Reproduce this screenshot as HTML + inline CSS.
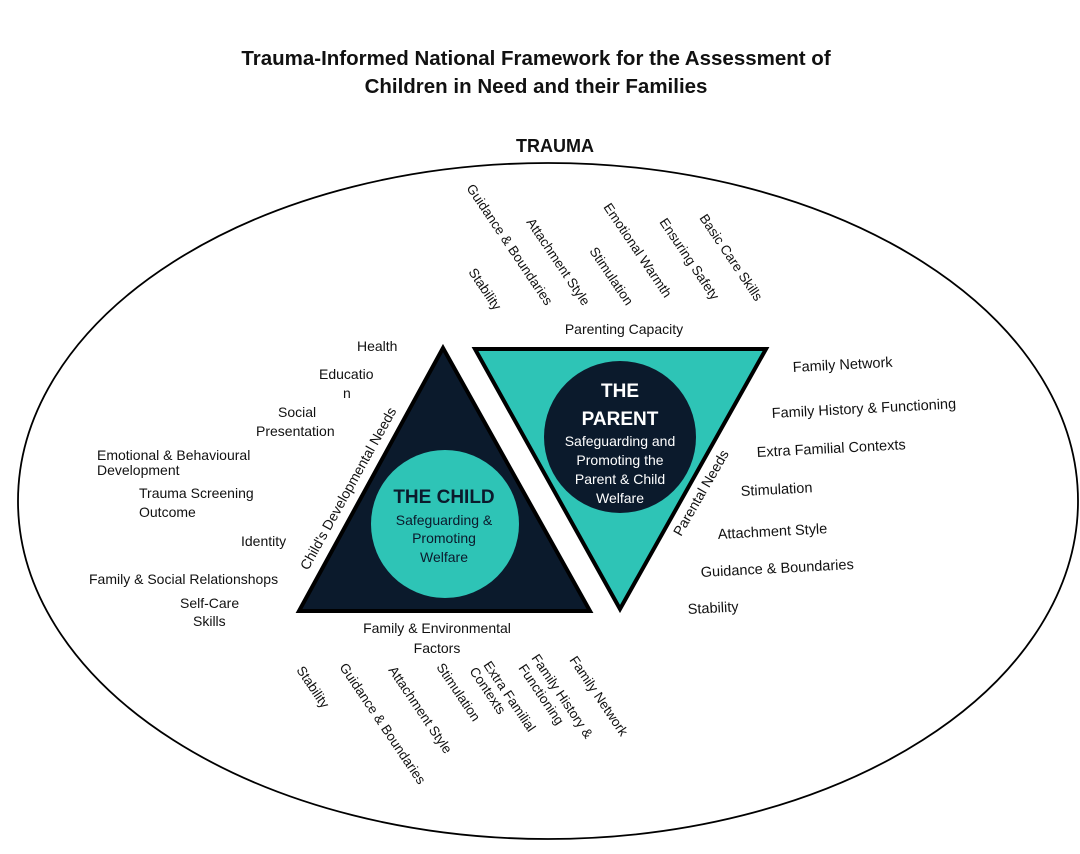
<!DOCTYPE html>
<html><head><meta charset="utf-8"><style>
html,body{margin:0;padding:0;background:#fff}
svg{display:block}
text{font-family:"Liberation Sans",sans-serif;fill:#111}
.s{font-size:13.5px}
.h{font-size:14px}
</style></head><body>
<svg width="1080" height="854" viewBox="0 0 1080 854">
<text x="536" y="65" text-anchor="middle" font-size="20.5" font-weight="bold">Trauma-Informed National Framework for the Assessment of</text>
<text x="536" y="93" text-anchor="middle" font-size="20.5" font-weight="bold">Children in Need and their Families</text>
<text x="555" y="152" text-anchor="middle" font-size="18" font-weight="bold">TRAUMA</text>
<ellipse cx="548" cy="501" rx="530" ry="338" fill="none" stroke="#000" stroke-width="1.8"/>
<polygon points="443,348 299,611 590,611" fill="#0b1a2c" stroke="#000" stroke-width="4"/>
<circle cx="445" cy="524" r="74" fill="#2ec4b6"/>
<polygon points="475,349 766,349 620,609" fill="#2ec4b6" stroke="#000" stroke-width="4"/>
<circle cx="620" cy="437" r="76" fill="#0b1a2c"/>
<text x="444" y="503" text-anchor="middle" font-size="19" font-weight="bold" style="fill:#0b1a2c">THE CHILD</text>
<text x="444" y="525" text-anchor="middle" class="h" style="fill:#0b1a2c">Safeguarding &amp;</text>
<text x="444" y="543" text-anchor="middle" class="h" style="fill:#0b1a2c">Promoting</text>
<text x="444" y="562" text-anchor="middle" class="h" style="fill:#0b1a2c">Welfare</text>
<text x="620" y="397" text-anchor="middle" font-size="19" font-weight="bold" style="fill:#fff">THE</text>
<text x="620" y="425" text-anchor="middle" font-size="19" font-weight="bold" style="fill:#fff">PARENT</text>
<text x="620" y="446" text-anchor="middle" class="h" style="fill:#fff">Safeguarding and</text>
<text x="620" y="465" text-anchor="middle" class="h" style="fill:#fff">Promoting the</text>
<text x="620" y="484" text-anchor="middle" class="h" style="fill:#fff">Parent &amp; Child</text>
<text x="620" y="503" text-anchor="middle" class="h" style="fill:#fff">Welfare</text>
<text x="624" y="334" text-anchor="middle" class="h">Parenting Capacity</text>
<text x="437" y="633" text-anchor="middle" class="h">Family &amp; Environmental</text>
<text x="437" y="653" text-anchor="middle" class="h">Factors</text>
<text transform="translate(308,571) rotate(-61)" class="h">Child's Developmental Needs</text>
<text transform="translate(681,537) rotate(-60)" class="h">Parental Needs</text>
<g class="s">
<text transform="translate(466,188) rotate(56)">Guidance &amp; Boundaries</text>
<text transform="translate(468,272) rotate(56)">Stability</text>
<text transform="translate(526,222) rotate(56)">Attachment Style</text>
<text transform="translate(589,251) rotate(56)">Stimulation</text>
<text transform="translate(603,207) rotate(56)">Emotional Warmth</text>
<text transform="translate(659,222) rotate(56)">Ensuring Safety</text>
<text transform="translate(699,218) rotate(56)">Basic Care Skills</text>
</g>
<g class="s">
<text transform="translate(296,670) rotate(56)">Stability</text>
<text transform="translate(339,667) rotate(56)">Guidance &amp; Boundaries</text>
<text transform="translate(388,670) rotate(56)">Attachment Style</text>
<text transform="translate(436,667) rotate(56)">Stimulation</text>
<text transform="translate(483,665) rotate(56)">Extra Familial</text>
<text transform="translate(469,671) rotate(56)">Contexts</text>
<text transform="translate(531,658) rotate(56)">Family History &amp;</text>
<text transform="translate(518,668) rotate(56)">Functioning</text>
<text transform="translate(569,660) rotate(56)">Family Network</text>
</g>
<g font-size="14.5">
<text transform="translate(793,372) rotate(-3)">Family Network</text>
<text transform="translate(772,418) rotate(-3)">Family History &amp; Functioning</text>
<text transform="translate(757,457) rotate(-3)">Extra Familial Contexts</text>
<text transform="translate(741,496) rotate(-3)">Stimulation</text>
<text transform="translate(718,539) rotate(-3)">Attachment Style</text>
<text transform="translate(701,577) rotate(-3)">Guidance &amp; Boundaries</text>
<text transform="translate(688,614) rotate(-3)">Stability</text>
</g>
<g class="h">
<text x="357" y="351">Health</text>
<text x="319" y="379">Educatio</text>
<text x="343" y="398">n</text>
<text x="278" y="417">Social</text>
<text x="256" y="436">Presentation</text>
<text x="97" y="460">Emotional &amp; Behavioural</text>
<text x="97" y="475">Development</text>
<text x="139" y="498">Trauma Screening</text>
<text x="139" y="517">Outcome</text>
<text x="241" y="546">Identity</text>
<text x="89" y="584">Family &amp; Social Relationshops</text>
<text x="180" y="608">Self-Care</text>
<text x="193" y="626">Skills</text>
</g>
</svg>
</body></html>
